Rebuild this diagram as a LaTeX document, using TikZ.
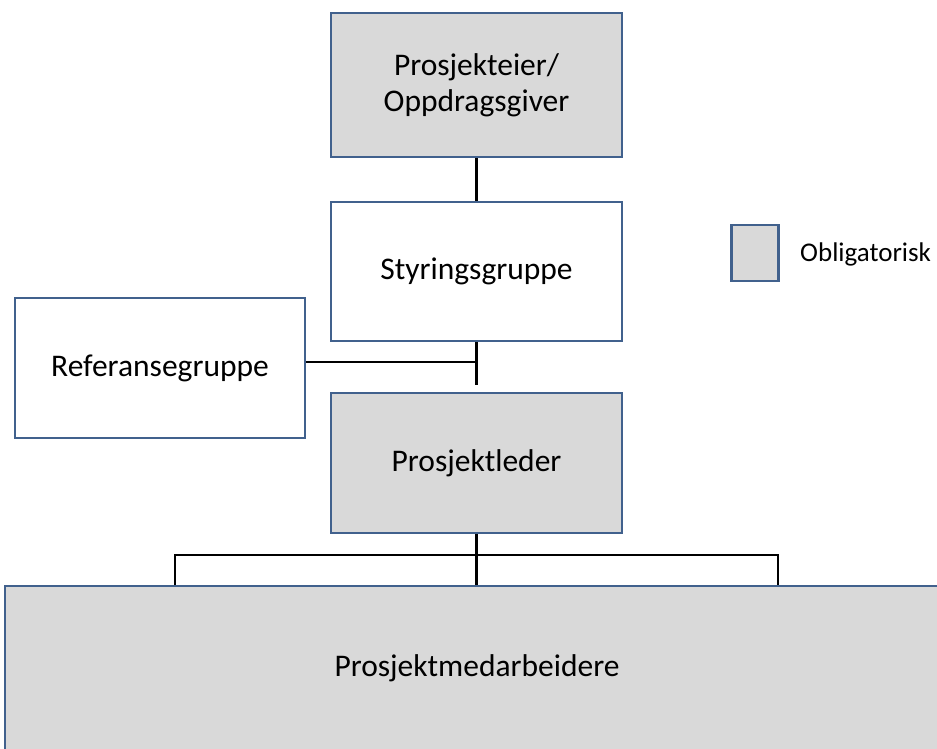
\documentclass[tikz,border=0pt]{standalone}
\usepackage{fontspec}
\setmainfont{Carlito}
\definecolor{boxline}{HTML}{41618D}
\definecolor{boxfill}{HTML}{D9D9D9}
\tikzset{
  orgbox/.style={draw=boxline, line width=2.5pt, rectangle, align=center, font=\fontsize{31.5}{36}\selectfont, inner sep=0pt},
  mandatory/.style={orgbox, fill=boxfill},
  optional/.style={orgbox, fill=white},
  link/.style={draw=black, line width=2.4pt}
}
\begin{document}
\begin{tikzpicture}[x=1pt,y=-1pt]
\useasboundingbox (0,0) rectangle (937,749);
\clip (0,0) rectangle (937,749);
\node[mandatory, minimum width=291pt, minimum height=144pt] (eier) at (476.5,85) {Prosjekteier/\\Oppdragsgiver};
\node[optional, minimum width=291pt, minimum height=139pt] (styr) at (476.5,271.5) {Styringsgruppe};
\node[optional, minimum width=290pt, minimum height=140pt] (ref) at (160,368) {Referansegruppe};
\node[mandatory, minimum width=291pt, minimum height=140pt] (pl) at (476.5,463) {Prosjektleder};
\node[mandatory, minimum width=944pt, minimum height=164pt] (med) at (477,668) {Prosjektmedarbeidere};
\node[mandatory, minimum width=47pt, minimum height=56pt] (leg) at (755,253) {};
\node[font=\fontsize{27}{32}\selectfont, anchor=west, inner sep=0pt] (legtext) at (800,254) {Obligatorisk};
\coordinate (j1) at (476.5,385);
\coordinate (j2) at (476.5,362);
\coordinate (b1) at (175,555);
\coordinate (b2) at (778,555);
\draw[link] (eier.south) -- (styr.north);
\draw[link] (styr.south) -- (j1);
\draw[link] (ref.east |- j2) -- (j2);
\draw[link] (pl.south) -- (pl.south |- med.north);
\draw[link] (b1 |- med.north) -- (b1) -- (b2) -- (b2 |- med.north);
\end{tikzpicture}
\end{document}
